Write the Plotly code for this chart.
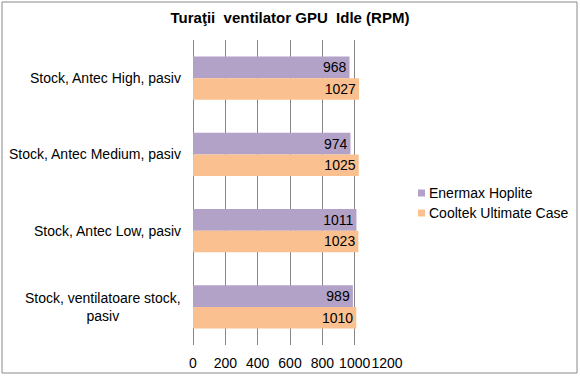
import plotly.graph_objects as go

categories = ["Stock, Antec High, pasiv", "Stock, Antec Medium, pasiv",
              "Stock, Antec Low, pasiv", "Stock, ventilatoare stock,<br>pasiv"]
enermax = [968, 974, 1011, 989]
cooltek = [1027, 1025, 1023, 1010]
series_names = ["Enermax Hoplite", "Cooltek Ultimate Case"]
series_colors = ["#B3A2C7", "#FAC090"]
x_ticks = [0, 200, 400, 600, 800, 1000, 1200]

FONT = "Liberation Sans, Arial, sans-serif"
W, H = 580, 378
L, R, T, B = 193, 193, 40, 33

fig = go.Figure()
for name, vals, col in zip(series_names, [enermax, cooltek], series_colors):
    fig.add_trace(go.Bar(
        y=categories, x=vals, name=name, orientation="h",
        marker=dict(color=col, line=dict(width=0)),
        text=[str(v) for v in vals], textposition="inside",
        insidetextanchor="end", constraintext="none",
        textfont=dict(family=FONT, size=14, color="black"),
        cliponaxis=False, showlegend=False,
    ))

for c in categories:
    fig.add_annotation(x=0, xref="x domain", y=c, yref="y", text=c,
                       showarrow=False, xanchor="right", align="center",
                       xshift=-10, font=dict(family=FONT, size=14, color="black"))

pw = W - L - R
ph = H - T - B
def px2x(p):
    return (p - L) / pw
def py2y(p):
    return (H - B - p) / ph

fig.add_shape(type="rect", xref="paper", yref="paper",
              x0=px2x(2), x1=px2x(577), y0=py2y(373), y1=py2y(2),
              line=dict(color="#8a8a8a", width=1), fillcolor="rgba(0,0,0,0)",
              layer="below")

# custom legend with small square markers
for i, (name, col) in enumerate(zip(series_names, series_colors)):
    cy = 193 + 20 * i
    fig.add_shape(type="rect", xref="paper", yref="paper",
                  x0=px2x(418), x1=px2x(425), y0=py2y(cy + 3.5), y1=py2y(cy - 3.5),
                  line=dict(width=0), fillcolor=col)
    fig.add_annotation(x=px2x(427), y=py2y(cy), xref="paper", yref="paper",
                       text=name, showarrow=False, xanchor="left", yanchor="middle",
                       font=dict(family=FONT, size=14, color="black"))

fig.update_layout(
    width=W, height=H,
    margin=dict(l=L, r=R, t=T, b=B, autoexpand=False),
    paper_bgcolor="white", plot_bgcolor="white",
    barmode="group", bargap=0.43, bargroupgap=0,
    title=dict(text="<b>Turaţii  ventilator GPU  Idle (RPM)</b>", x=0.5, xref="paper",
               y=1 - 18 / H, yanchor="middle",
               font=dict(family=FONT, size=15, color="black")),
    font=dict(family=FONT, size=14, color="black"),
    showlegend=False,
    xaxis=dict(range=[0, 1200], tickvals=x_ticks, ticktext=[str(v) for v in x_ticks],
               tickangle=0, ticklabelstandoff=8,
               showgrid=True, gridcolor="#868686", gridwidth=1,
               zeroline=True, zerolinecolor="#868686", zerolinewidth=1,
               showline=False, ticks="", tickfont=dict(family=FONT, size=14),
               fixedrange=True),
    yaxis=dict(autorange="reversed", showticklabels=False, showgrid=False,
               showline=False, ticks="", zeroline=False, fixedrange=True),
)

fig.write_html("out.html", config={"displayModeBar": False},
               post_script="document.body.style.margin='0';document.body.style.overflow='hidden';")
